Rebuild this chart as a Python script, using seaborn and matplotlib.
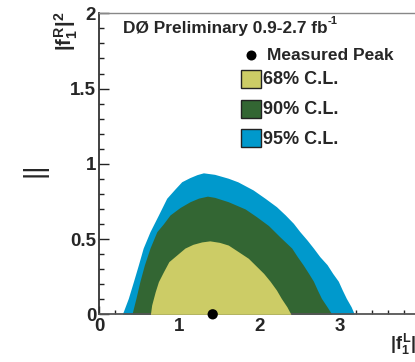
import matplotlib
matplotlib.use("Agg")
import matplotlib.pyplot as plt
import seaborn as sns
import numpy as np
import pandas as pd
from matplotlib.patches import Rectangle
from matplotlib.lines import Line2D
from matplotlib.ticker import MultipleLocator

# ---------------- data ----------------
cl95_x = [0.29, 0.365, 0.43, 0.49, 0.55, 0.635, 0.74, 0.843, 0.95, 1.03, 1.13, 1.22, 1.30, 1.44,
          1.61, 1.73, 1.92, 2.07, 2.21, 2.32, 2.42, 2.50, 2.59, 2.67, 2.75, 2.84, 2.91, 2.98,
          3.03, 3.08, 3.14, 3.18]
cl95_y = [0.00, 0.106, 0.22, 0.328, 0.44, 0.549, 0.66, 0.771, 0.835, 0.881, 0.908, 0.928, 0.94, 0.93,
          0.904, 0.88, 0.826, 0.77, 0.715, 0.66, 0.605, 0.55, 0.494, 0.44, 0.383, 0.33, 0.272, 0.22,
          0.161, 0.106, 0.05, 0.00]

cl90_x = [0.41, 0.46, 0.51, 0.565, 0.635, 0.72, 0.80, 0.884, 1.01, 1.133, 1.24, 1.35, 1.44,
          1.61, 1.82, 1.96, 2.11, 2.25, 2.40, 2.47, 2.54, 2.61, 2.67, 2.72, 2.77, 2.84, 2.90]
cl90_y = [0.00, 0.106, 0.22, 0.328, 0.44, 0.549, 0.60, 0.66, 0.71, 0.748, 0.772, 0.785, 0.777,
          0.748, 0.70, 0.649, 0.59, 0.516, 0.44, 0.383, 0.33, 0.272, 0.22, 0.161, 0.106, 0.05, 0.00]

cl68_x = [0.64, 0.656, 0.70, 0.74, 0.80, 0.87, 0.97, 1.07, 1.17, 1.28, 1.38, 1.50, 1.61, 1.73,
          1.86, 1.94, 2.05, 2.13, 2.21, 2.27, 2.34, 2.39]
cl68_y = [0.00, 0.062, 0.15, 0.217, 0.28, 0.35, 0.395, 0.44, 0.465, 0.481, 0.488, 0.478, 0.46, 0.418,
          0.372, 0.33, 0.272, 0.22, 0.161, 0.106, 0.05, 0.00]

peak_x = [1.416]
peak_y = [0.0]

legend_labels = ["68% C.L.", "90% C.L.", "95% C.L."]
legend_colors = ["#CCCC66", "#336633", "#0099CC"]
x_ticks = [0, 1, 2, 3, 4]
x_tick_labels = ["0", "1", "2", "3", "4"]
y_ticks = [0, 0.5, 1, 1.5, 2]
y_tick_labels = ["0", "0.5", "1", "1.5", "2"]
title_text = "DØ Preliminary 0.9-2.7 fb"
title_sup = "-1"
peak_label = "Measured Peak"

# ---------------- style ----------------
sns.set_style("ticks")
plt.rcParams["font.family"] = ["Liberation Sans", "DejaVu Sans"]
plt.rcParams["font.weight"] = "bold"
plt.rcParams["mathtext.fontset"] = "custom"
plt.rcParams["mathtext.rm"] = "Liberation Sans:bold"
plt.rcParams["mathtext.bf"] = "Liberation Sans:bold"
plt.rcParams["mathtext.it"] = "Liberation Sans:bold"

W, H = 415, 362
fig = plt.figure(figsize=(W / 100, H / 100), dpi=100)

def fp(x, y):
    return x / W, 1 - y / H

x0px, y0px, ppx, ppy = 99.0, 314.3, 80.3, 150.5
ax = fig.add_axes([x0px / W, 1 - y0px / H, 4 * ppx / W, 2 * ppy / H])
ax.set_xlim(0, 4)
ax.set_ylim(0, 2)

ax.fill_between(cl95_x, 0, cl95_y, color=legend_colors[2], lw=0, zorder=1)
ax.fill_between(cl90_x, 0, cl90_y, color=legend_colors[1], lw=0, zorder=2)
ax.fill_between(cl68_x, 0, cl68_y, color=legend_colors[0], lw=0, zorder=3)

df_peak = pd.DataFrame({"x": peak_x, "y": peak_y})
sns.scatterplot(data=df_peak, x="x", y="y", ax=ax, color="black", s=55,
                edgecolor="none", clip_on=False, zorder=6, legend=False)

ax.set_xlabel("")
ax.set_ylabel("")
ax.set_xticks(x_ticks)
ax.set_xticklabels(x_tick_labels)
ax.set_yticks(y_ticks)
ax.set_yticklabels(y_tick_labels)
ax.xaxis.set_minor_locator(MultipleLocator(0.2))
ax.yaxis.set_minor_locator(MultipleLocator(0.1))
ax.tick_params(axis="x", which="major", direction="in", length=6, width=1, pad=3,
               labelsize=13.5, color="#222222")
ax.tick_params(axis="x", which="minor", direction="in", length=3, width=1, color="#222222")
ax.tick_params(axis="y", which="major", direction="in", length=7, width=1, pad=2,
               labelsize=13.5, color="#222222")
ax.tick_params(axis="y", which="minor", direction="in", length=3.6, width=1, color="#222222")
for lab in ax.get_xticklabels() + ax.get_yticklabels():
    lab.set_fontweight("bold")

ax.spines["left"].set_color("#333333")
ax.spines["left"].set_linewidth(1.3)
ax.spines["bottom"].set_color("#555555")
ax.spines["bottom"].set_linewidth(1.3)
ax.spines["top"].set_visible(True)
ax.spines["top"].set_color("#888888")
ax.spines["top"].set_linewidth(1.0)
ax.spines["right"].set_visible(True)
ax.spines["right"].set_color("#888888")

# title with superscript
t = fig.text(*fp(123, 33), title_text, fontsize=12.4, fontweight="bold",
             ha="left", va="baseline")
fig.text(0, 0, title_sup, fontsize=8, fontweight="bold", ha="left", va="bottom",
         transform=matplotlib.transforms.offset_copy(
             fig.transFigure, fig=fig, x=0, y=0, units="dots"))
# place superscript right after the title text
fig.canvas.draw()
bb = t.get_window_extent()
sup = fig.texts[-1]
sup.set_position(((bb.x1 + 0.5) / W, (H - 33 + 6.5) / H))
sup.set_transform(fig.transFigure)

# legend (manual)
fig.add_artist(Line2D([251 / W], [1 - 55 / H], marker="o", markersize=7.2,
                      color="black", markeredgewidth=0, transform=fig.transFigure))
fig.text(*fp(267, 55), peak_label, fontsize=12.5, fontweight="bold",
         ha="left", va="center")
box_centers = [79, 109, 138]
for lab, col, cy in zip(legend_labels, legend_colors, box_centers):
    bx, by = fp(241, cy + 9)
    fig.add_artist(Rectangle((bx, by), 20 / W, 18 / H, facecolor=col,
                             edgecolor="#222222", lw=1.0, transform=fig.transFigure))
    fig.text(*fp(263, cy + 1), lab, fontsize=13, fontweight="bold",
             ha="left", va="center")

# axis labels
fig.text(*fp(66, 11), r"$|f^{R}_{1}|^{2}$", fontsize=14.5, rotation=90,
         ha="center", va="top")
fig.text(*fp(390, 350), r"$|f^{L}_{1}|^{2}$", fontsize=13,
         ha="left", va="baseline")
fig.text(*fp(35, 170), "||", fontsize=20, fontweight="normal", rotation=90,
         ha="center", va="center")

fig.savefig("out.png", dpi=100)
